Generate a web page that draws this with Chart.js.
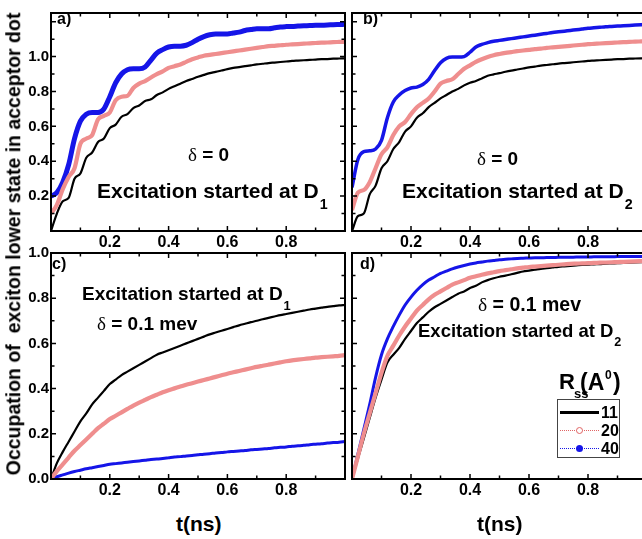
<!DOCTYPE html>
<html>
<head>
<meta charset="utf-8">
<script src="https://cdn.jsdelivr.net/npm/chart.js@4.4.0/dist/chart.umd.min.js"></script>
<style>
	html, body { margin: 0; padding: 0; background: #fff; }
	body { width: 642px; height: 539px; overflow: hidden; position: relative; font-family: "Liberation Sans", Arial, sans-serif; font-weight: bold; color: #000; }
	canvas { position: absolute; }
	.txt { position: absolute; white-space: nowrap; line-height: 1; }
	.sub { position: relative; top: 0.75em; font-size: 0.68em; margin-left: 1px; }
	.delta { font-family: "Liberation Serif", "DejaVu Serif", serif; font-weight: normal; }
	#ytitle { position: absolute; left: 14px; top: 244px; white-space: nowrap; font-size: 19.5px; line-height: 1; transform: translate(-50%, -50%) rotate(-90deg); }
	#legendBox { position: absolute; left: 557px; top: 399px; width: 63px; height: 59px; border: 1px solid #444; box-sizing: border-box; }
</style>
</head>
<body>
<canvas id="pa" width="350" height="252" style="left:0px;top:0px"></canvas>
<canvas id="pb" width="305" height="252" style="left:347px;top:0px"></canvas>
<canvas id="pc" width="350" height="260" style="left:0px;top:240px"></canvas>
<canvas id="pd" width="305" height="260" style="left:347px;top:240px"></canvas>

<div id="ytitle">Occupation of &nbsp;exciton lower state in acceptor dot</div>

<div class="txt" style="left:57px;top:11px;font-size:16px">a)</div>
<div class="txt" style="left:363px;top:11px;font-size:16px">b)</div>
<div class="txt" style="left:52px;top:256px;font-size:16px">c)</div>
<div class="txt" style="left:360px;top:256px;font-size:16px">d)</div>

<div class="txt" style="left:188px;top:145px;font-size:19px"><span class="delta">&delta;</span> = 0</div>
<div class="txt" style="left:97px;top:180px;font-size:21px">Excitation started at D<span class="sub">1</span></div>
<div class="txt" style="left:477px;top:149px;font-size:19px"><span class="delta">&delta;</span> = 0</div>
<div class="txt" style="left:402px;top:180px;font-size:21px">Excitation started at D<span class="sub">2</span></div>
<div class="txt" style="left:82px;top:284px;font-size:19px">Excitation started at D<span class="sub">1</span></div>
<div class="txt" style="left:97px;top:314px;font-size:19px"><span class="delta">&delta;</span> = 0.1 mev</div>
<div class="txt" style="left:478px;top:295px;font-size:19.5px"><span class="delta">&delta;</span> = 0.1 mev</div>
<div class="txt" style="left:418px;top:322px;font-size:18.5px">Excitation started at D<span class="sub">2</span></div>

<div class="txt" style="left:176px;top:513px;font-size:21px">t(ns)</div>
<div class="txt" style="left:477px;top:513px;font-size:21px">t(ns)</div>

<div class="txt" style="left:559px;top:371px;font-size:22px">R</div>
<div class="txt" style="left:574px;top:387px;font-size:13px">ss</div>
<div class="txt" style="left:580px;top:371px;font-size:23px">(A</div>
<div class="txt" style="left:605px;top:369px;font-size:12px">0</div>
<div class="txt" style="left:613px;top:371px;font-size:23px">)</div>
<div id="legendBox"></div>

<script>
// temps (ns), pas de 0.02
const tValues = [0, 0.02, 0.04, 0.06, 0.08, 0.10, 0.12, 0.14, 0.16, 0.18,
	0.20, 0.22, 0.24, 0.26, 0.28, 0.30, 0.32, 0.34, 0.36, 0.38,
	0.40, 0.42, 0.44, 0.46, 0.48, 0.50, 0.52, 0.54, 0.56, 0.58,
	0.60, 0.62, 0.64, 0.66, 0.68, 0.70, 0.72, 0.74, 0.76, 0.78,
	0.80, 0.82, 0.84, 0.86, 0.88, 0.90, 0.92, 0.94, 0.96, 0.98, 1.00];

const seriesNames = ['11', '20', '40'];
const xTickLabels = ['0.2', '0.4', '0.6', '0.8'];
const yTickLabelsTop = ['0.2', '0.4', '0.6', '0.8', '1.0'];
const yTickLabelsBottom = ['0.0', '0.2', '0.4', '0.6', '0.8', '1.0'];

// a) delta = 0, excitation at D1
const a11 = [0, 0.10, 0.17, 0.19, 0.30, 0.33, 0.42, 0.45, 0.51, 0.53,
	0.59, 0.61, 0.655, 0.67, 0.705, 0.72, 0.745, 0.755, 0.78, 0.795,
	0.815, 0.83, 0.845, 0.86, 0.872, 0.884, 0.895, 0.905, 0.912, 0.92,
	0.928, 0.935, 0.94, 0.945, 0.95, 0.955, 0.959, 0.963, 0.966, 0.969,
	0.972, 0.975, 0.977, 0.979, 0.981, 0.983, 0.985, 0.986, 0.988, 0.989, 0.99];
const a20 = [0.10, 0.15, 0.24, 0.31, 0.36, 0.50, 0.53, 0.55, 0.64, 0.66,
	0.68, 0.75, 0.77, 0.775, 0.82, 0.845, 0.86, 0.88, 0.90, 0.915,
	0.935, 0.945, 0.955, 0.97, 0.985, 0.995, 1.005, 1.01, 1.015, 1.02,
	1.025, 1.03, 1.035, 1.04, 1.045, 1.05, 1.055, 1.06, 1.062, 1.065,
	1.068, 1.07, 1.072, 1.074, 1.076, 1.078, 1.08, 1.081, 1.083, 1.084, 1.085];
const a40 = [0.20, 0.22, 0.28, 0.38, 0.53, 0.63, 0.67, 0.68, 0.68, 0.70,
	0.77, 0.85, 0.90, 0.925, 0.93, 0.93, 0.94, 0.98, 1.02, 1.04,
	1.055, 1.06, 1.06, 1.065, 1.08, 1.10, 1.115, 1.125, 1.13, 1.13,
	1.13, 1.135, 1.14, 1.15, 1.155, 1.16, 1.16, 1.16, 1.165, 1.17,
	1.172, 1.173, 1.175, 1.177, 1.178, 1.18, 1.18, 1.181, 1.183, 1.184, 1.185];

// b) delta = 0, excitation at D2
const b11 = [0, 0.085, 0.10, 0.21, 0.26, 0.36, 0.40, 0.47, 0.51, 0.57,
	0.60, 0.65, 0.675, 0.71, 0.735, 0.76, 0.78, 0.80, 0.815, 0.835,
	0.85, 0.86, 0.875, 0.89, 0.898, 0.905, 0.913, 0.92, 0.926, 0.932,
	0.938, 0.943, 0.948, 0.952, 0.956, 0.96, 0.963, 0.966, 0.969, 0.972,
	0.975, 0.977, 0.979, 0.981, 0.983, 0.985, 0.986, 0.988, 0.989, 0.99, 0.991];
const b20 = [0.12, 0.22, 0.235, 0.28, 0.36, 0.44, 0.48, 0.55, 0.60, 0.625,
	0.67, 0.71, 0.735, 0.76, 0.80, 0.845, 0.86, 0.87, 0.90, 0.93,
	0.95, 0.97, 0.985, 0.998, 1.008, 1.015, 1.021, 1.026, 1.031, 1.035,
	1.039, 1.043, 1.046, 1.05, 1.053, 1.056, 1.059, 1.062, 1.065, 1.068,
	1.071, 1.073, 1.075, 1.077, 1.079, 1.081, 1.083, 1.084, 1.086, 1.087, 1.088];
const b40 = [0.25, 0.41, 0.455, 0.46, 0.47, 0.52, 0.65, 0.74, 0.78, 0.805,
	0.82, 0.825, 0.84, 0.87, 0.92, 0.965, 0.99, 0.997, 0.997, 1.0,
	1.025, 1.055, 1.07, 1.08, 1.088, 1.093, 1.098, 1.103, 1.108, 1.113,
	1.118, 1.123, 1.128, 1.133, 1.138, 1.142, 1.146, 1.15, 1.154, 1.158,
	1.162, 1.165, 1.168, 1.171, 1.173, 1.175, 1.177, 1.179, 1.181, 1.183, 1.185];

// c) delta = 0.1 mev, excitation at D1
const c11 = [0, 0.07, 0.12, 0.165, 0.21, 0.255, 0.29, 0.33, 0.36, 0.39,
	0.42, 0.44, 0.46, 0.475, 0.49, 0.505, 0.52, 0.535, 0.55, 0.56,
	0.57, 0.58, 0.59, 0.60, 0.61, 0.62, 0.63, 0.64, 0.648, 0.656,
	0.664, 0.672, 0.68, 0.687, 0.694, 0.70, 0.707, 0.713, 0.719, 0.725,
	0.73, 0.735, 0.74, 0.745, 0.75, 0.754, 0.758, 0.762, 0.765, 0.768, 0.77];
const c20 = [0, 0.035, 0.065, 0.095, 0.125, 0.15, 0.175, 0.20, 0.225, 0.245,
	0.265, 0.28, 0.295, 0.31, 0.325, 0.338, 0.35, 0.362, 0.373, 0.384,
	0.393, 0.401, 0.409, 0.417, 0.424, 0.431, 0.438, 0.445, 0.452, 0.459,
	0.466, 0.472, 0.478, 0.484, 0.49, 0.496, 0.501, 0.506, 0.511, 0.516,
	0.521, 0.525, 0.528, 0.531, 0.534, 0.537, 0.539, 0.541, 0.543, 0.545, 0.548];
const c40 = [0, 0.01, 0.018, 0.026, 0.033, 0.039, 0.045, 0.05, 0.055, 0.06,
	0.065, 0.068, 0.071, 0.074, 0.077, 0.08, 0.083, 0.086, 0.088, 0.091,
	0.094, 0.097, 0.099, 0.102, 0.104, 0.107, 0.11, 0.112, 0.115, 0.117,
	0.12, 0.122, 0.124, 0.126, 0.129, 0.131, 0.133, 0.135, 0.138, 0.14,
	0.142, 0.145, 0.147, 0.149, 0.152, 0.154, 0.156, 0.159, 0.161, 0.163, 0.166];

// d) delta = 0.1 mev, excitation at D2
const d11 = [0, 0.09, 0.18, 0.27, 0.36, 0.44, 0.515, 0.55, 0.58, 0.62,
	0.655, 0.69, 0.715, 0.74, 0.76, 0.775, 0.79, 0.805, 0.82, 0.83,
	0.845, 0.855, 0.87, 0.88, 0.888, 0.895, 0.9, 0.906, 0.912, 0.918,
	0.922, 0.926, 0.93, 0.933, 0.936, 0.939, 0.941, 0.943, 0.945, 0.947,
	0.948, 0.95, 0.951, 0.953, 0.954, 0.955, 0.956, 0.957, 0.958, 0.959, 0.96];
const d20 = [0, 0.10, 0.20, 0.29, 0.38, 0.47, 0.545, 0.59, 0.635, 0.675,
	0.71, 0.745, 0.77, 0.795, 0.815, 0.83, 0.845, 0.86, 0.87, 0.88,
	0.89, 0.897, 0.904, 0.91, 0.915, 0.92, 0.924, 0.928, 0.932, 0.935,
	0.938, 0.94, 0.942, 0.944, 0.946, 0.948, 0.95, 0.952, 0.953, 0.954,
	0.955, 0.956, 0.957, 0.958, 0.959, 0.96, 0.961, 0.962, 0.963, 0.964, 0.965];
const d40 = [0, 0.11, 0.22, 0.33, 0.45, 0.55, 0.62, 0.675, 0.725, 0.77,
	0.805, 0.835, 0.86, 0.88, 0.895, 0.91, 0.92, 0.93, 0.938, 0.945,
	0.951, 0.956, 0.96, 0.964, 0.967, 0.97, 0.972, 0.974, 0.976, 0.977,
	0.978, 0.979, 0.979, 0.98, 0.98, 0.981, 0.981, 0.981, 0.982, 0.982,
	0.982, 0.983, 0.983, 0.983, 0.983, 0.984, 0.984, 0.984, 0.984, 0.984, 0.985];

const BLACK = '#000000';
const RED = '#ef8e8e';
const RED_INNER = 'rgba(255,255,255,0.85)';
const BLUE = '#1515e8';
const xTickFont = { family: '"Liberation Sans", Arial, sans-serif', size: 16, weight: 'bold' };
const yTickFont = { family: '"Liberation Sans", Arial, sans-serif', size: 15, weight: 'bold' };

function points(values)
{
	return values.map((v, i) => ({ x: tValues[i], y: v }));
}

// cadre + graduations vers l'interieur sur les 4 cotes
const frameTicks = {
	id: 'frameTicks',
	afterDatasetsDraw(chart)
	{
		const ctx = chart.ctx;
		const a = chart.chartArea;
		const sx = chart.scales.x;
		const sy = chart.scales.y;
		ctx.save();
		ctx.strokeStyle = '#000';
		ctx.lineWidth = 1.5;
		ctx.beginPath();
		for (let i = 0; i <= 10; i++)
		{
			const x = sx.getPixelForValue(i / 10);
			const len = (i % 2 === 0) ? 5 : 3.5;
			ctx.moveTo(x, a.bottom); ctx.lineTo(x, a.bottom - len);
			ctx.moveTo(x, a.top); ctx.lineTo(x, a.top + len);
		}
		const ny = Math.floor(sy.max * 10 + 1e-6);
		for (let i = 0; i <= ny; i++)
		{
			const y = sy.getPixelForValue(i / 10);
			const len = (i % 2 === 0) ? 5 : 3.5;
			ctx.moveTo(a.left, y); ctx.lineTo(a.left + len, y);
			ctx.moveTo(a.right, y); ctx.lineTo(a.right - len, y);
		}
		ctx.stroke();
		ctx.lineWidth = 2;
		ctx.strokeRect(a.left, a.top, a.right - a.left, a.bottom - a.top);
		ctx.restore();
	}
};

function makePanel(id, series, yMax, yLabels, yAxisWidth, blueWidth)
{
	const line = { pointRadius: 0, fill: false, cubicInterpolationMode: 'monotone' };
	const data = {
		datasets: [
			Object.assign({ label: seriesNames[1], data: points(series[1]), borderColor: RED, borderWidth: 4.2 }, line),
			Object.assign({ label: seriesNames[1] + ' inner', data: points(series[1]), borderColor: RED_INNER, borderWidth: 1.4 }, line),
			Object.assign({ label: seriesNames[2], data: points(series[2]), borderColor: BLUE, borderWidth: blueWidth }, line),
			Object.assign({ label: seriesNames[0], data: points(series[0]), borderColor: BLACK, borderWidth: 2.2 }, line)
		]
	};

	const config = {
		type: 'line',
		data: data,
		options: {
			responsive: false,
			animation: false,
			layout: { padding: { top: 13, right: 5, left: 0, bottom: 0 } },
			plugins: { legend: { display: false }, tooltip: { enabled: false } },
			scales: {
				x: {
					type: 'linear', min: 0, max: 1,
					grid: { display: false, drawTicks: false },
					border: { display: false },
					ticks: {
						stepSize: 0.2, autoSkip: false, maxRotation: 0, padding: 2,
						color: '#000', font: xTickFont,
						callback: v => xTickLabels.includes(v.toFixed(1)) ? v.toFixed(1) : ''
					},
					afterFit: scale => { scale.height = 21; }
				},
				y: {
					type: 'linear', min: 0, max: yMax,
					grid: { display: false, drawTicks: false },
					border: { display: false },
					ticks: {
						display: yLabels !== null,
						stepSize: 0.2, autoSkip: false, padding: 2,
						color: '#000', font: yTickFont,
						callback: v => (yLabels && yLabels.includes(v.toFixed(1))) ? v.toFixed(1) : ''
					},
					afterFit: scale => { scale.width = yAxisWidth; }
				}
			}
		},
		plugins: [frameTicks]
	};

	new Chart(document.getElementById(id).getContext('2d'), config);
}

function buildLegend()
{
	const box = document.getElementById('legendBox');
	const rows = [
		{ name: seriesNames[0], color: BLACK, kind: 'solid' },
		{ name: seriesNames[1], color: '#e06464', kind: 'open' },
		{ name: seriesNames[2], color: BLUE, kind: 'dot' }
	];
	rows.forEach((r, i) =>
	{
		const cy = 13 + i * 18;
		const ln = document.createElement('div');
		ln.style.cssText = 'position:absolute;left:2px;width:39px;';
		if (r.kind === 'solid')
			ln.style.cssText += 'top:' + (cy - 2) + 'px;height:3px;background:' + r.color + ';';
		else
			ln.style.cssText += 'top:' + (cy - 1) + 'px;height:0;border-top:1px dotted ' + r.color + ';';
		box.appendChild(ln);
		if (r.kind !== 'solid')
		{
			const m = document.createElement('div');
			m.style.cssText = 'position:absolute;left:18px;top:' + (cy - 4) + 'px;width:7px;height:7px;border-radius:50%;box-sizing:border-box;'
				+ (r.kind === 'open' ? 'border:1.3px solid ' + r.color + ';background:#fff;' : 'background:' + r.color + ';');
			box.appendChild(m);
		}
		const lab = document.createElement('div');
		lab.className = 'txt';
		lab.style.cssText = 'left:43px;top:' + (cy - 8) + 'px;font-size:16px;';
		lab.textContent = r.name;
		box.appendChild(lab);
	});
}

makePanel('pa', [a11, a20, a40], 1.25, yTickLabelsTop, 51, 5);
makePanel('pb', [b11, b20, b40], 1.25, null, 5, 3.5);
makePanel('pc', [c11, c20, c40], 1.0, yTickLabelsBottom, 51, 3);
makePanel('pd', [d11, d20, d40], 1.0, null, 5, 3);
buildLegend();
</script>
</body>
</html>
